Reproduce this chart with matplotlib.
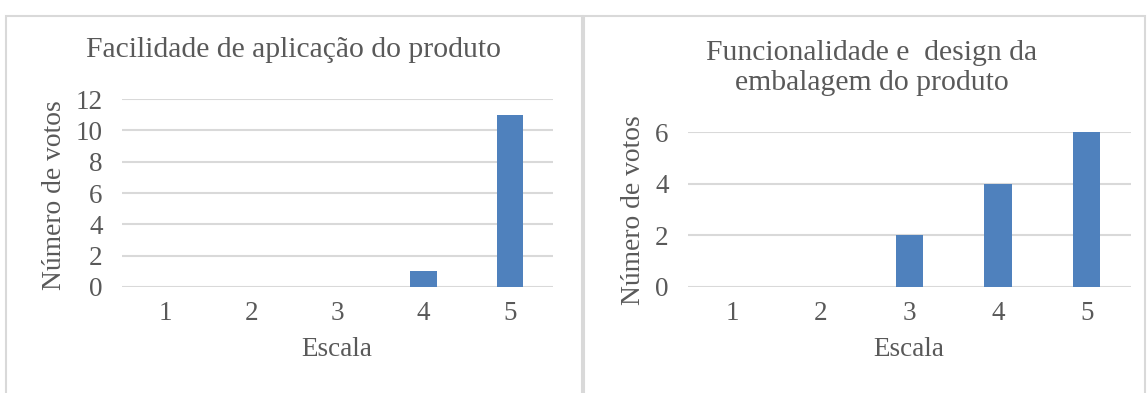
import matplotlib.pyplot as plt
from matplotlib.patches import Rectangle

# dados
escala = [1, 2, 3, 4, 5]
votos_aplicacao = [0, 0, 0, 1, 11]
votos_embalagem = [0, 0, 2, 4, 6]

titulo_esq = "Facilidade de aplicação do produto"
titulo_dir = "Funcionalidade e  design da\nembalagem do produto"

plt.rcParams['font.family'] = ['Liberation Serif', 'DejaVu Serif']
cinza = '#595959'
grade = '#d9d9d9'
azul = '#4f81bd'

W, H = 1148, 393
fig = plt.figure(figsize=(W / 100, H / 100), dpi=100)

# molduras dos dois graficos
for x0, x1 in [(6, 582), (584, 1145)]:
    fig.patches.append(Rectangle((x0 / W, -0.1), (x1 - x0) / W, 1.1 - 16 / H,
                                 transform=fig.transFigure, fill=False,
                                 edgecolor=grade, linewidth=1.5))


def painel(rect, valores, ymax, passo):
    ax = fig.add_axes(rect)
    ax.bar(escala, valores, width=0.31, color=azul, zorder=3)
    ax.set_xlim(0.5, 5.5)
    ax.set_ylim(0, ymax)
    ax.set_xticks(escala)
    ax.set_yticks(range(0, ymax + 1, passo))
    ax.grid(axis='y', color=grade, linewidth=1.5, zorder=0)
    for s in ax.spines.values():
        s.set_visible(False)
    ax.tick_params(length=0, labelsize=19.5, colors=cinza)
    ax.tick_params(axis='x', pad=10)
    ax.tick_params(axis='y', pad=14)
    ax.set_facecolor('none')
    return ax


axl = painel([122 / W, 1 - 287 / H, 431 / W, 188 / H], votos_aplicacao, 12, 2)
axr = painel([688 / W, 1 - 287 / H, 443 / W, 155 / H], votos_embalagem, 6, 2)

fig.text(294 / W, 1 - 50 / H, titulo_esq, ha='center', va='center', fontsize=21.3, color=cinza)
fig.text(872 / W, 1 - 68 / H, titulo_dir, ha='center', va='center', fontsize=21.3, color=cinza,
         linespacing=1.15)

fig.text(337 / W, 1 - 350 / H, "Escala", ha='center', va='center', fontsize=19.5, color=cinza)
fig.text(909 / W, 1 - 350 / H, "Escala", ha='center', va='center', fontsize=19.5, color=cinza)
fig.text(55 / W, 1 - 195 / H, "Número de votos", ha='center', va='center', rotation=90,
         fontsize=19.8, color=cinza)
fig.text(634 / W, 1 - 210 / H, "Número de votos", ha='center', va='center', rotation=90,
         fontsize=19.8, color=cinza)

fig.savefig('out.png', dpi=100)
